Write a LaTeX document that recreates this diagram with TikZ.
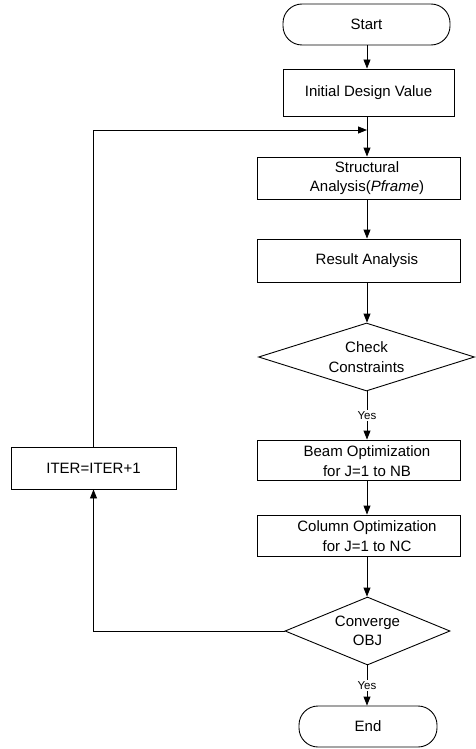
\documentclass[tikz,border=0pt]{standalone}
\usepackage{fontspec}
\setmainfont{Liberation Sans}
\usetikzlibrary{arrows.meta,shapes.geometric}
\begin{document}
\begin{tikzpicture}[x=1pt,y=-1pt,
  box/.style={draw, line width=0.9pt, inner sep=0pt},
  term/.style={draw, line width=0.9pt, rounded corners=19pt, inner sep=0pt},
  dec/.style={draw, diamond, line width=0.9pt, inner sep=0pt},
  txt/.style={align=center, font=\fontsize{15}{19.5}\selectfont},
  arr/.style={line width=0.9pt, -{Triangle[length=9pt,width=7pt]}},
  yes/.style={fill=white, inner sep=1.5pt, font=\fontsize{11.5}{13}\selectfont}]
\useasboundingbox (0,0) rectangle (475,749);
\coordinate (axis) at (367,0);
\node[term, minimum width=167pt, minimum height=41pt, txt] (start) at (366.5,24.5) {Start};
\node[box, minimum width=171pt, minimum height=47pt, txt] (init) at (368.5,92.5) {Initial Design Value};
\node[box, minimum width=203pt, minimum height=42pt] (sa) at (358.5,178) {};
\node[txt] (satxt) at (367,178) {Structural\\Analysis(\textit{Pframe})};
\node[box, minimum width=203pt, minimum height=43pt] (ra) at (358.5,260.5) {};
\node[txt] (ratxt) at (367,260.5) {Result Analysis};
\node[dec, minimum width=216pt, minimum height=68pt, shape aspect=3.2, txt] (cc) at (366.5,357) {Check\\Constraints};
\node[box, minimum width=203pt, minimum height=40pt] (beam) at (358.5,460) {};
\node[txt] (beamtxt) at (367,461) {Beam Optimization\\for J=1 to NB};
\node[box, minimum width=203pt, minimum height=41pt] (col) at (358.5,535.5) {};
\node[txt] (coltxt) at (367,536) {Column Optimization\\for J=1 to NC};
\node[dec, minimum width=165pt, minimum height=68pt, shape aspect=2.4, txt] (conv) at (367.5,631) {Converge\\OBJ};
\node[term, minimum width=138pt, minimum height=41pt, txt] (end) at (368,726.5) {End};
\node[box, minimum width=165pt, minimum height=42pt, txt] (iter) at (93.5,468) {ITER=ITER+1};
\coordinate (join) at (367,130);
\draw[arr] (start.south -| axis) -- (init.north -| axis);
\draw[arr] (init.south -| axis) -- (sa.north -| axis);
\draw[arr] (sa.south -| axis) -- (ra.north -| axis);
\draw[arr] (ra.south -| axis) -- (cc.north -| axis);
\draw[arr] (cc.south -| axis) -- node[yes]{Yes} (beam.north -| axis);
\draw[arr] (beam.south -| axis) -- (col.north -| axis);
\draw[arr] (col.south -| axis) -- (conv.north -| axis);
\draw[arr] (conv.south -| axis) -- node[yes]{Yes} (end.north -| axis);
\draw[arr] (conv.west) -- (conv.west -| iter.south) -- (iter.south);
\draw[arr] (iter.north) -- (iter.north |- join) -- (join);
\end{tikzpicture}
\end{document}
